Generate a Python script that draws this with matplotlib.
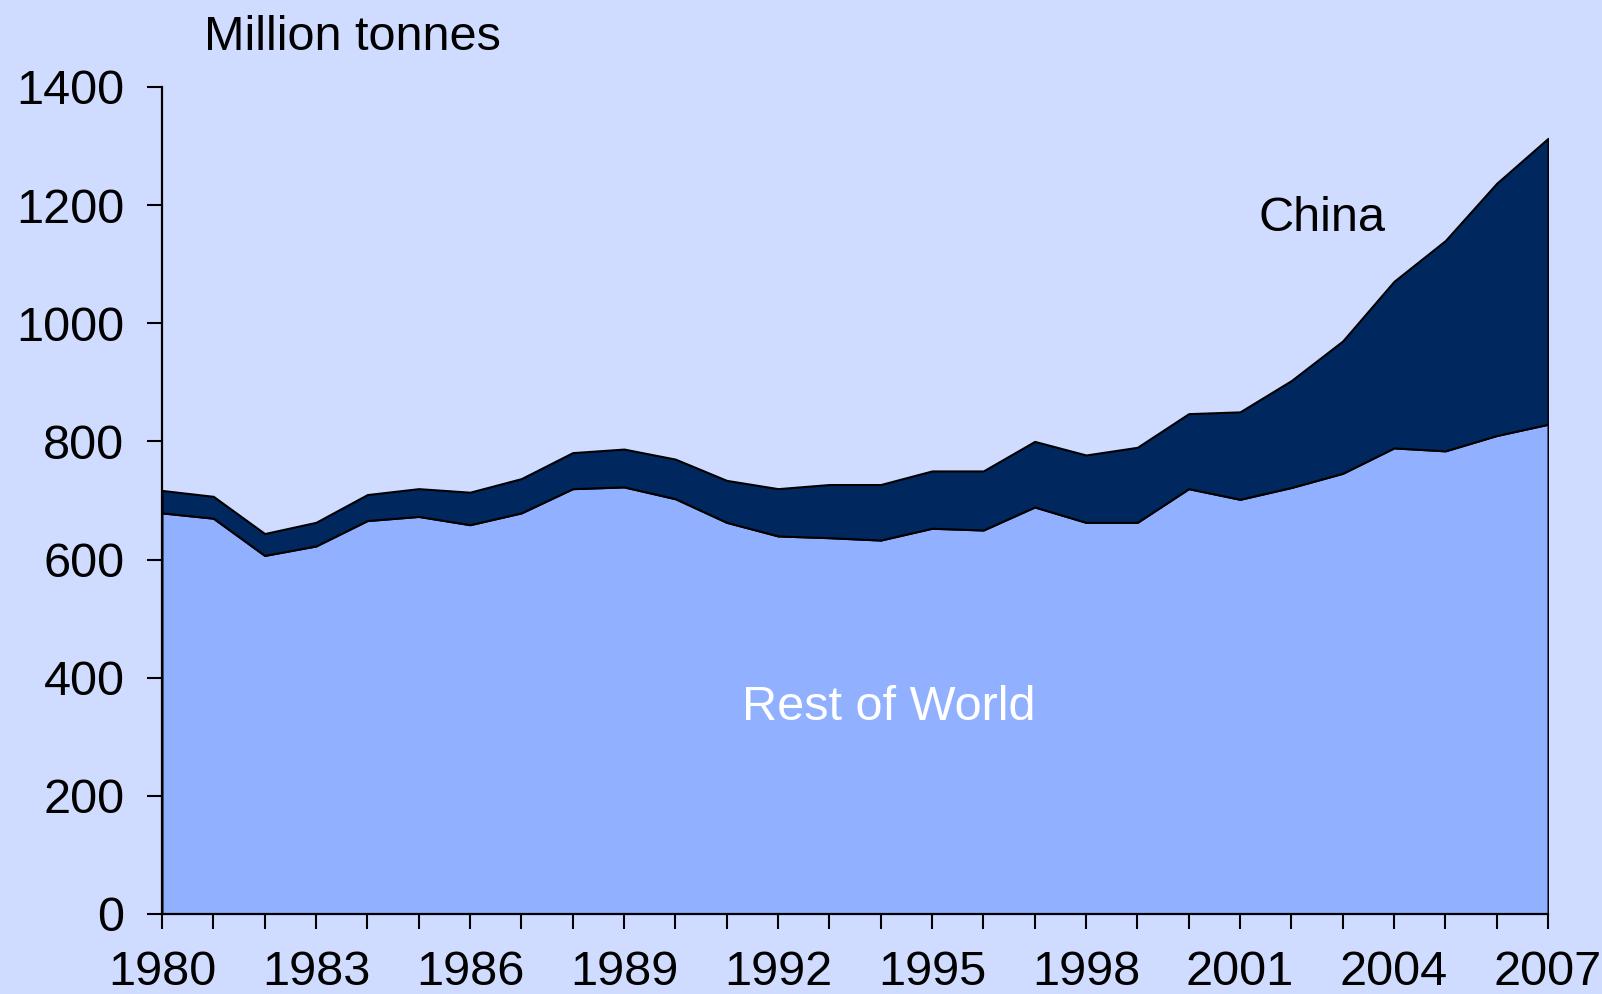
import matplotlib
matplotlib.use("Agg")
import matplotlib.pyplot as plt

# annual values, million tonnes
years = list(range(1980, 2008))
rest_of_world = [679, 670, 607, 623, 666, 673, 659, 679, 720, 723, 703, 663, 640, 637, 633,
                 653, 650, 689, 663, 663, 720, 702, 722, 746, 789, 784, 810, 829]
total = [717, 707, 644, 663, 710, 720, 714, 737, 781, 787, 770, 734, 720, 727, 727,
         750, 750, 800, 777, 790, 847, 850, 903, 970, 1071, 1140, 1237, 1313]
china = [t - r for t, r in zip(total, rest_of_world)]

bg = "#D0DCFF"
row_colour = "#91B0FF"
china_colour = "#00285E"

plt.rcParams['font.family'] = ['Liberation Sans', 'DejaVu Sans']

fig = plt.figure(figsize=(16.02, 9.94), dpi=100, facecolor=bg)
ax = fig.add_axes([0.1011, 0.0805, 0.8652, 0.832])
ax.set_facecolor(bg)

ax.stackplot(years, rest_of_world, china, colors=[row_colour, china_colour],
             edgecolor="black", linewidth=1.5)

ax.set_xlim(1980, 2007)
ax.set_ylim(0, 1400)
ax.set_xticks(years)
ax.set_xticklabels([str(y) if (y - 1980) % 3 == 0 else "" for y in years])
ax.set_yticks(range(0, 1401, 200))

for side in ["top", "right"]:
    ax.spines[side].set_visible(False)
for side in ["left", "bottom"]:
    ax.spines[side].set_linewidth(1.6)
ax.tick_params(axis="both", direction="out", length=11, width=1.5, labelsize=35)
ax.tick_params(axis="x", pad=15)
ax.tick_params(axis="y", pad=16)

fig.text(204 / 1602, 1 - 37 / 994, "Million tonnes", fontsize=35, ha="left", va="center")
ax.text(2002.6, 1177, "China", fontsize=35, ha="center", va="center", color="black")
ax.text(1994.15, 350, "Rest of World", fontsize=35, ha="center", va="center", color="white")

fig.savefig("out.png", dpi=100, facecolor=bg)
